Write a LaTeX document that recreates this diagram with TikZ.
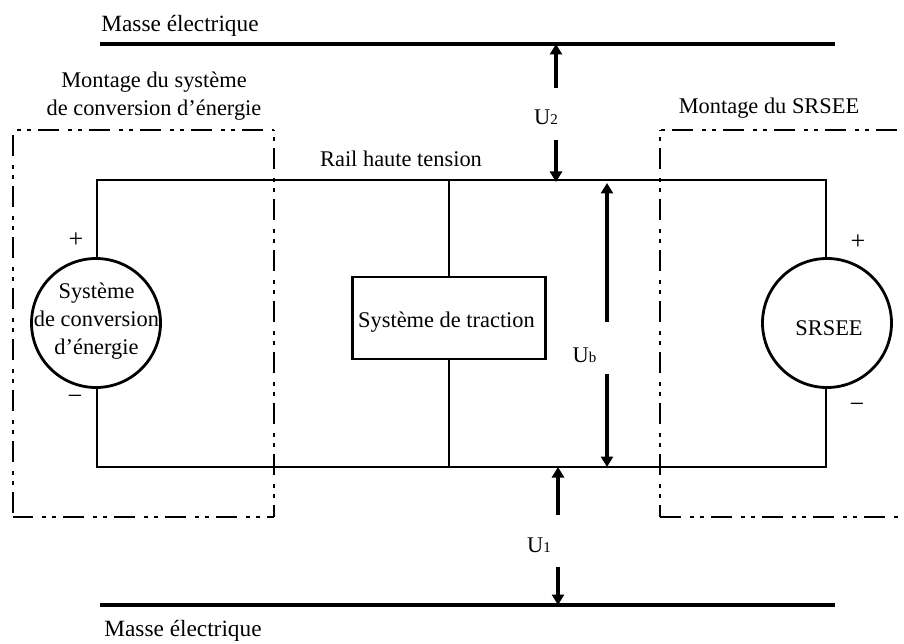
\documentclass[tikz,border=0pt]{standalone}
\usepackage{fontspec}
\setmainfont{Liberation Serif}
\usetikzlibrary{arrows.meta}
\tikzset{
  x=1pt,y=-1pt,
  lab/.style={inner sep=0pt,font=\fontsize{22.4}{28}\selectfont,align=center},
  biglab/.style={inner sep=0pt,font=\fontsize{23.3}{28}\selectfont,align=center},
  signlab/.style={inner sep=0pt,font=\fontsize{26}{28}\selectfont},
  wire/.style={line width=2.8pt,line join=miter},
  bar/.style={line width=4pt},
  mountline/.style={line width=2.7pt,dash pattern=on 21pt off 9pt on 4pt off 6pt on 4pt off 7pt},
  varrow/.style={line width=3.8pt,-{Triangle[width=12pt,length=10.5pt]}},
  source/.style={draw,circle,line width=2.8pt,minimum size=129pt,inner sep=0pt},
  loadbox/.style={draw,line width=2.8pt,minimum width=193pt,minimum height=82pt,inner sep=0pt},
}
\newcommand{\subd}[1]{\raisebox{-0.5pt}{\fontsize{15}{16}\selectfont #1}}
\begin{document}
\begin{tikzpicture}
\useasboundingbox (0,0) rectangle (904,644);
% bars
\coordinate (t1) at (100,44); \coordinate (t2) at (835,44);
\coordinate (b1) at (100,605); \coordinate (b2) at (835,605);
\draw[bar] (t1) -- (t2);
\draw[bar] (b1) -- (b2);
% mounts
\coordinate (ma) at (13,130); \coordinate (mb) at (274,130); \coordinate (mc) at (274,517); \coordinate (md) at (13,517);
\draw[mountline,dash phase=26pt] (ma) -- (mb);
\draw[mountline,dash phase=33pt] (mb) -- (mc);
\draw[mountline,dash phase=1pt] (md) -- (mc);
\draw[mountline,dash phase=46pt] (ma) -- (md);
\coordinate (na) at (660,130); \coordinate (nb) at (904,130); \coordinate (nc) at (660,517); \coordinate (nd) at (904,517);
\draw[mountline,dash phase=39pt] (na) -- (nb);
\draw[mountline,dash phase=33pt] (na) -- (nc);
\draw[mountline] (nc) -- (nd);
% components
\node[source] (sl) at (96,323) {};
\node[source] (sr) at (827,323) {};
\node[loadbox] (load) at (449,318) {};
% wires
\coordinate (r1) at (97,180); \coordinate (r2) at (826,180); \coordinate (rm) at (449,180);
\coordinate (l1) at (97,467); \coordinate (l2) at (826,467); \coordinate (lm) at (449,467);
\draw[wire] (97,258) -- (r1) -- (r2) -- (826,258);
\draw[wire] (97,388) -- (l1) -- (l2) -- (826,388);
\draw[wire] (rm) -- (load.north);
\draw[wire] (load.south) -- (lm);
% voltage arrows
\coordinate (u2a) at (556,88); \coordinate (u2b) at (556,44);
\coordinate (u2c) at (556,140); \coordinate (u2d) at (556,182);
\coordinate (uba) at (607,322); \coordinate (ubb) at (607,183);
\coordinate (ubc) at (607,374); \coordinate (ubd) at (607,467);
\coordinate (u1a) at (558,515); \coordinate (u1b) at (558,467);
\coordinate (u1c) at (558,567); \coordinate (u1d) at (558,605);
\draw[varrow] (u2a) -- (u2b);
\draw[varrow] (u2c) -- (u2d);
\draw[varrow] (uba) -- (ubb);
\draw[varrow] (ubc) -- (ubd);
\draw[varrow] (u1a) -- (u1b);
\draw[varrow] (u1c) -- (u1d);
% labels
\node[biglab] (tm) at (180,26) {Masse électrique};
\node[biglab] (bm) at (183,631) {Masse électrique};
\node[lab] (m1) at (154,96) {Montage du système\\de conversion d’énergie};
\node[lab] (m2) at (769,108) {Montage du SRSEE};
\node[lab] (rail) at (401,159) {Rail haute tension};
\node[lab] (sltxt) at (96.5,321.5) {Système\\de conversion\\d’énergie};
\node[lab] (srtxt) at (829,328) {SRSEE};
\node[lab] (loadtxt) at (446.5,322) {Système de traction};
\node[signlab] (pl) at (76,240) {+};
\node[signlab] (ml) at (75,400) {−};
\node[signlab] (pr) at (858,242) {+};
\node[signlab] (mr) at (857,408) {−};
\node[lab] (lu2) at (546,117) {U\subd{2}};
\node[lab] (lub) at (584.5,355) {U\subd{b}};
\node[lab] (lu1) at (539,545) {U\subd{1}};
\end{tikzpicture}
\end{document}
